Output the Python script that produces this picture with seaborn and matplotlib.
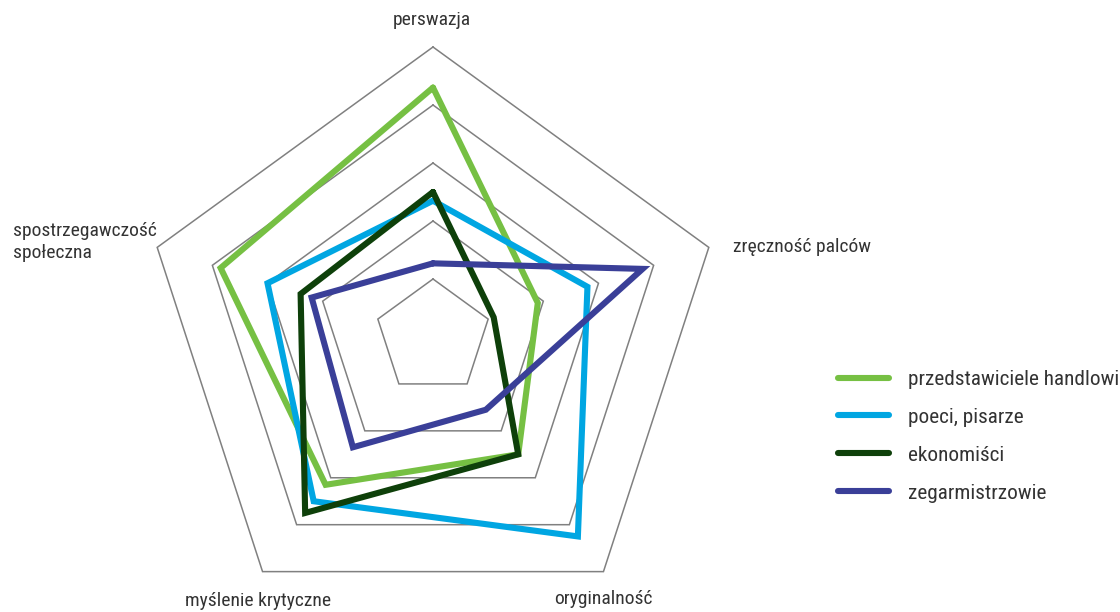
import numpy as np
import pandas as pd
import matplotlib
matplotlib.use("Agg")
import matplotlib.pyplot as plt
from matplotlib.lines import Line2D
import seaborn as sns

# Skill profiles per profession (scale 0-5)
axes_labels = ["perswazja", "zręczność palców", "oryginalność",
               "myślenie krytyczne", "spostrzegawczość\nspołeczna"]
series_names = ["przedstawiciele handlowi", "poeci, pisarze",
                "ekonomiści", "zegarmistrzowie"]
handlowcy = [4.3, 1.9, 2.5, 3.15, 3.85]
poeci = [2.35, 2.8, 4.25, 3.5, 3.0]
ekonomisci = [2.5, 1.1, 2.5, 3.75, 2.4]
zegarmistrze = [1.27, 3.8, 1.55, 2.35, 2.2]
ring_levels = [1, 2, 3, 4, 5]

colors = ["#76C043", "#00A6E2", "#0E400A", "#3A3F98"]

sns.set_style("white")
plt.rcParams["font.family"] = ["Roboto Condensed", "DejaVu Sans"]

n = len(axes_labels)
theta = np.arange(n) * 2 * np.pi / n
theta_closed = np.append(theta, theta[0])

rows = []
for name, vals in zip(series_names, [handlowcy, poeci, ekonomisci, zegarmistrze]):
    closed = list(vals) + [vals[0]]
    for i, (t, v) in enumerate(zip(theta_closed, closed)):
        rows.append({"seria": name, "theta": t, "wartosc": v, "kolejnosc": i})
df = pd.DataFrame(rows)

fig = plt.figure(figsize=(11.2, 6.12), dpi=100)
ax = fig.add_axes([143 / 1120, -15 / 612, 580 / 1120, 580 / 612], projection="polar")
ax.set_theta_offset(np.pi / 2)
ax.set_theta_direction(-1)

# pentagonal grid rings
for lvl in ring_levels:
    ax.plot(theta_closed, [lvl] * (n + 1), color="#808080", lw=1.1, zorder=0)

sns.lineplot(data=df, x="theta", y="wartosc", hue="seria", hue_order=series_names,
             palette=colors, sort=False, estimator=None, lw=4.4, ax=ax,
             legend=False)
for line in ax.lines:
    line.set_clip_on(False)
    line.set_solid_joinstyle("miter")

ax.set_ylim(0, 5)
ax.grid(False)
ax.spines["polar"].set_visible(False)
ax.set_xticks([])
ax.set_yticks([])
ax.set_xlabel("")
ax.set_ylabel("")
ax.patch.set_alpha(0)

fs = 14
txt = "#333333"
fig.text(432 / 1120, 1 - 20 / 612, axes_labels[0], ha="center", va="center", fontsize=fs, color=txt)
fig.text(733 / 1120, 1 - 247 / 612, axes_labels[1], ha="left", va="center", fontsize=fs, color=txt)
fig.text(603 / 1120, 1 - 599 / 612, axes_labels[2], ha="center", va="center", fontsize=fs, color=txt)
fig.text(258 / 1120, 1 - 601 / 612, axes_labels[3], ha="center", va="center", fontsize=fs, color=txt)
fig.text(13 / 1120, 1 - 242 / 612, axes_labels[4], ha="left", va="center", fontsize=fs,
         color=txt, linespacing=1.3)

legend_fs = 15.3
handles = [Line2D([], [], color=c, lw=4.4, solid_capstyle="round") for c in colors]
fig.legend(handles, series_names, loc="upper left", bbox_to_anchor=(838 / 1120, 1 - 370 / 612),
           frameon=False, fontsize=legend_fs, handlelength=2.4, handletextpad=0.89,
           labelspacing=0.89, borderpad=0, borderaxespad=0, labelcolor=txt)

fig.savefig("out.png", dpi=100)
